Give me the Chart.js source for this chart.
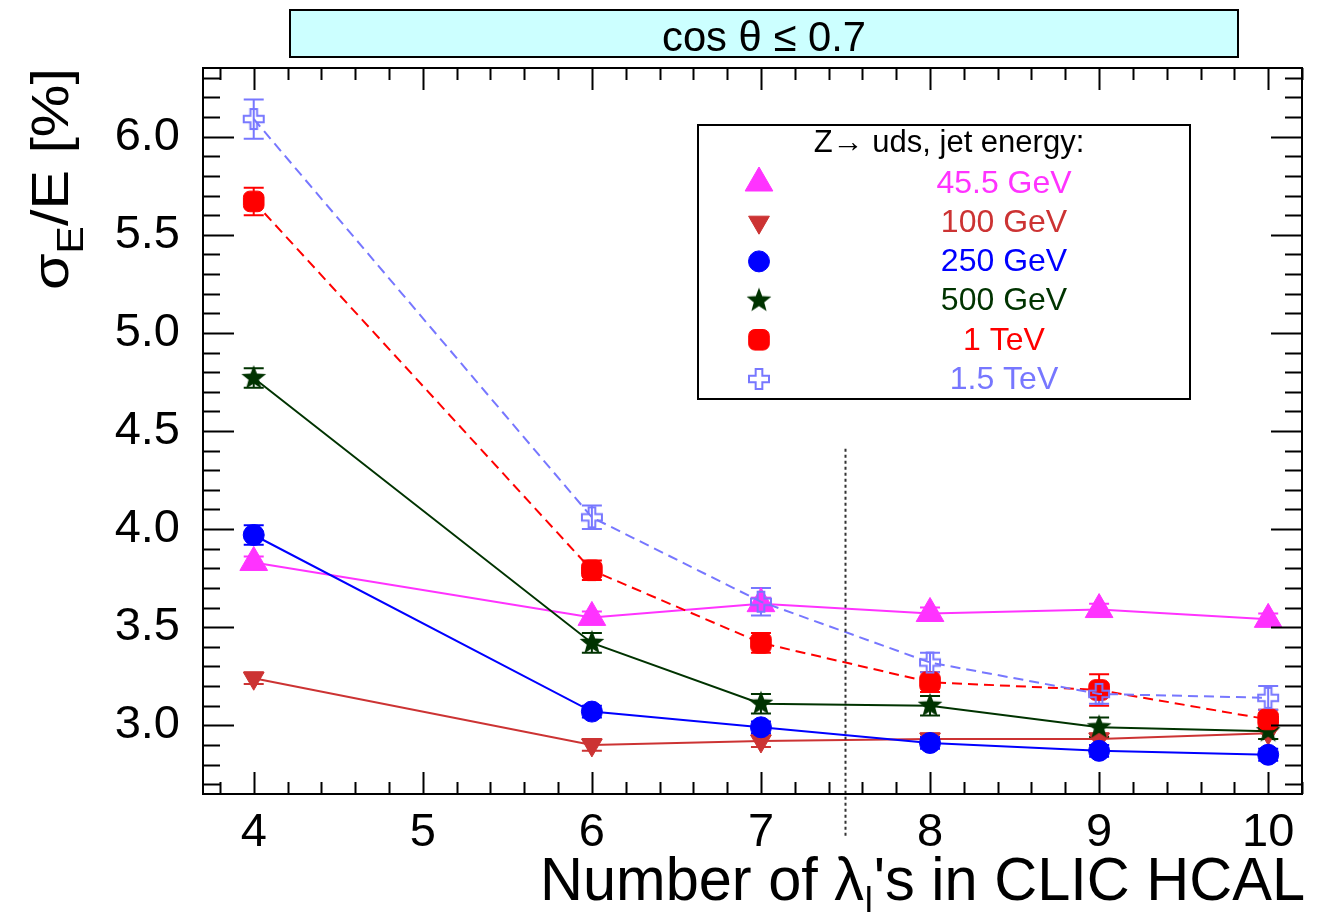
<!DOCTYPE html>
<html>
<head>
<meta charset="utf-8">
<script src="https://cdn.jsdelivr.net/npm/chart.js@4.4.1/dist/chart.umd.min.js"></script>
<style>
  html, body { margin: 0; padding: 0; background: #fff; }
  canvas { display: block; }
</style>
</head>
<body>
<canvas id="resChart" width="1319" height="912"></canvas>
<script>
// data
const lambdas = [4, 6, 7, 8, 9, 10];
const labels = ['45.5 GeV', '100 GeV', '250 GeV', '500 GeV', '1 TeV', '1.5 TeV'];
const res455 = [3.83, 3.55, 3.62, 3.57, 3.59, 3.54];
const res100 = [3.24, 2.90, 2.92, 2.93, 2.93, 2.96];
const res250 = [3.97, 3.07, 2.99, 2.91, 2.87, 2.85];
const res500 = [4.77, 3.42, 3.11, 3.10, 2.99, 2.97];
const res1000 = [5.67, 3.79, 3.42, 3.22, 3.18, 3.03];
const res1500 = [6.09, 4.06, 3.63, 3.32, 3.16, 3.14];
const err455 = [0.03, 0.03, 0.03, 0.03, 0.03, 0.03];
const err100 = [0.03, 0.03, 0.03, 0.03, 0.03, 0.03];
const err250 = [0.05, 0.03, 0.03, 0.03, 0.03, 0.03];
const err500 = [0.05, 0.05, 0.05, 0.05, 0.05, 0.04];
const err1000 = [0.07, 0.05, 0.05, 0.05, 0.08, 0.05];
const err1500 = [0.10, 0.06, 0.07, 0.05, 0.05, 0.06];
const xTicks = [4, 5, 6, 7, 8, 9, 10];
const yTicks = [3.0, 3.5, 4.0, 4.5, 5.0, 5.5, 6.0];
const xMin = 3.7, xMax = 10.2, yMin = 2.65, yMax = 6.35;
const cutX = 7.5, cutTop = 4.41;

const FONT = '"Liberation Sans", Arial, Helvetica, sans-serif';
const colors = ['#ff33ff', '#cc3333', '#0000ff', '#003300', '#ff0000', '#7777ff'];

// marker images for styles chart.js does not have
function makeStar(color, R) {
    const c = document.createElement('canvas');
    c.width = c.height = 2 * R + 2;
    const g = c.getContext('2d');
    g.translate(R + 1, R + 1);
    g.beginPath();
    for (let i = 0; i < 10; i++) {
        const a = -Math.PI / 2 + i * Math.PI / 5;
        const r = i % 2 ? R * 0.42 : R;
        g.lineTo(Math.cos(a) * r, Math.sin(a) * r);
    }
    g.closePath();
    g.fillStyle = color;
    g.fill();
    return c;
}
function makeOpenCross(color, R) {
    const c = document.createElement('canvas');
    c.width = c.height = 2 * R + 4;
    const g = c.getContext('2d');
    g.translate(R + 2, R + 2);
    const a = R / 3;
    const pts = [[-a,-R],[a,-R],[a,-a],[R,-a],[R,a],[a,a],[a,R],[-a,R],[-a,a],[-R,a],[-R,-a],[-a,-a]];
    g.beginPath();
    pts.forEach(p => g.lineTo(p[0], p[1]));
    g.closePath();
    g.strokeStyle = color;
    g.lineWidth = 2;
    g.stroke();
    return c;
}

const series = [res455, res100, res250, res500, res1000, res1500];
const errors = [err455, err100, err250, err500, err1000, err1500];
const styles = [
    { pointStyle: 'triangle', radius: 16, rotation: 0 },
    { pointStyle: 'triangle', radius: 12, rotation: 180 },
    { pointStyle: 'circle', radius: 10.5, rotation: 0 },
    { pointStyle: makeStar(colors[3], 13), radius: 12, rotation: 0 },
    { pointStyle: 'rectRounded', radius: 12, rotation: 0 },
    { pointStyle: makeOpenCross(colors[5], 10), radius: 10, rotation: 0 }
];
const dashes = [[], [], [], [], [10, 6], [10, 6]];

const datasets = series.map((vals, i) => ({
    label: labels[i],
    data: lambdas.map((x, k) => ({ x: x, y: vals[k] })),
    errors: errors[i],
    borderColor: colors[i],
    backgroundColor: colors[i],
    borderWidth: 2,
    borderDash: dashes[i],
    pointStyle: styles[i].pointStyle,
    pointRadius: styles[i].radius,
    pointRotation: styles[i].rotation,
    pointBackgroundColor: colors[i],
    pointBorderColor: colors[i],
    pointBorderWidth: 1,
    tension: 0,
    order: series.length - 1 - i
}));

// error bars with caps
const errorBars = {
    id: 'errorBars',
    beforeDatasetsDraw(chart) {
        const ctx = chart.ctx, xs = chart.scales.x, ys = chart.scales.y;
        ctx.save();
        chart.data.datasets.forEach(ds => {
            ctx.strokeStyle = ds.borderColor;
            ctx.lineWidth = 2;
            ds.data.forEach((p, k) => {
                const e = ds.errors[k];
                const px = xs.getPixelForValue(p.x);
                const y1 = ys.getPixelForValue(p.y - e), y2 = ys.getPixelForValue(p.y + e);
                ctx.beginPath();
                ctx.moveTo(px, y1); ctx.lineTo(px, y2);
                ctx.moveTo(px - 10, y1); ctx.lineTo(px + 10, y1);
                ctx.moveTo(px - 10, y2); ctx.lineTo(px + 10, y2);
                ctx.stroke();
            });
        });
        ctx.restore();
    }
};

// dotted marker line at 7.5 lambda
const cutLine = {
    id: 'cutLine',
    afterDatasetsDraw(chart) {
        const ctx = chart.ctx, xs = chart.scales.x, ys = chart.scales.y;
        const px = Math.round(xs.getPixelForValue(cutX)) + 0.5;
        ctx.save();
        ctx.strokeStyle = '#333';
        ctx.lineWidth = 2;
        ctx.setLineDash([3, 3]);
        ctx.beginPath();
        ctx.moveTo(px, ys.getPixelForValue(cutTop));
        ctx.lineTo(px, chart.chartArea.bottom + 44);
        ctx.stroke();
        ctx.restore();
    }
};

function drawParts(ctx, parts) {
    let x = 0;
    parts.forEach(p => {
        ctx.font = p[1] + 'px ' + FONT;
        ctx.fillText(p[0], x, p[2]);
        x += ctx.measureText(p[0]).width;
    });
    return x;
}
function partsWidth(ctx, parts) {
    let w = 0;
    parts.forEach(p => { ctx.font = p[1] + 'px ' + FONT; w += ctx.measureText(p[0]).width; });
    return w;
}

// frame, ticks, titles, legend
const decorations = {
    id: 'decorations',
    afterDraw(chart) {
        const ctx = chart.ctx, xs = chart.scales.x, ys = chart.scales.y;
        const a = chart.chartArea;
        ctx.save();
        ctx.strokeStyle = '#000';
        ctx.lineWidth = 2;
        ctx.beginPath();
        // x ticks every 0.2, major on integers
        for (let v = Math.ceil(xMin / 0.2) * 0.2; v <= xMax + 1e-6; v += 0.2) {
            const major = Math.abs(v - Math.round(v)) < 1e-6;
            const px = Math.round(xs.getPixelForValue(v)) + 0.5;
            const len = major ? 22 : 12;
            ctx.moveTo(px, a.bottom); ctx.lineTo(px, a.bottom - len);
            ctx.moveTo(px, a.top); ctx.lineTo(px, a.top + len);
        }
        // y ticks every 0.1, major on 0.5
        for (let v = Math.ceil(yMin / 0.1) * 0.1; v <= yMax + 1e-6; v += 0.1) {
            const major = Math.abs(v * 2 - Math.round(v * 2)) < 1e-6;
            const py = Math.round(ys.getPixelForValue(v)) + 0.5;
            const len = major ? 31 : 17;
            ctx.moveTo(a.left, py); ctx.lineTo(a.left + len, py);
            ctx.moveTo(a.right, py); ctx.lineTo(a.right - len, py);
        }
        ctx.stroke();
        ctx.strokeRect(a.left, a.top, a.right - a.left, a.bottom - a.top);

        // header box
        ctx.fillStyle = '#ccffff';
        ctx.fillRect(290, 10, 948, 47);
        ctx.strokeRect(290, 10, 948, 47);
        ctx.fillStyle = '#000';
        ctx.font = '42px ' + FONT;
        ctx.textAlign = 'center';
        ctx.textBaseline = 'alphabetic';
        const hdr = 'cos \u03B8 \u2264 0.7';
        const hw = ctx.measureText(hdr).width;
        ctx.save();
        ctx.translate(764, 51);
        ctx.scale(204 / hw, 1);
        ctx.fillText(hdr, 0, 0);
        ctx.restore();

        // x title, right aligned
        ctx.textAlign = 'left';
        const xParts = [['Number of \u03BB', 62, 0], ['I', 36, 12], ['\'s in CLIC HCAL', 62, 0]];
        const xw = partsWidth(ctx, xParts);
        ctx.save();
        ctx.translate(1305 - 765, 900);
        ctx.scale(765 / xw, 1);
        drawParts(ctx, xParts);
        ctx.restore();

        // y title, rotated
        const yParts = [['\u03C3', 52, 0], ['E', 36, 15], ['/E [%]', 52, 0]];
        const yw = partsWidth(ctx, yParts);
        ctx.save();
        ctx.translate(68, 290);
        ctx.rotate(-Math.PI / 2);
        ctx.scale(222 / yw, 1);
        drawParts(ctx, yParts);
        ctx.restore();

        // legend box
        ctx.fillStyle = '#fff';
        ctx.fillRect(698, 125, 492, 274);
        ctx.strokeRect(698, 125, 492, 274);
        ctx.fillStyle = '#000';
        ctx.textAlign = 'center';
        ctx.textBaseline = 'middle';
        ctx.font = '31px ' + FONT;
        ctx.fillText('Z\u2192 uds, jet energy:', 949, 143);
        chart.data.datasets.forEach((ds, i) => {
            const ry = 183 + i * 39.2;
            ctx.fillStyle = ds.borderColor;
            ctx.strokeStyle = ds.borderColor;
            ctx.lineWidth = 1;
            Chart.helpers.drawPoint(ctx, {
                pointStyle: ds.pointStyle, radius: ds.pointRadius,
                rotation: ds.pointRotation, borderWidth: 1
            }, 759, ry);
            ctx.font = '32px ' + FONT;
            ctx.fillText(ds.label, 1004, ry + 1);
        });
        ctx.restore();
    }
};

const ctx = document.getElementById('resChart').getContext('2d');
const resChart = new Chart(ctx, {
    type: 'line',
    data: { datasets: datasets },
    options: {
        responsive: false,
        animation: false,
        layout: { padding: { top: 68, right: 17, left: 0, bottom: 0 } },
        plugins: { legend: { display: false }, tooltip: { enabled: false } },
        scales: {
            x: {
                type: 'linear', min: xMin, max: xMax,
                grid: { display: false }, border: { display: false },
                afterBuildTicks: s => { s.ticks = xTicks.map(v => ({ value: v })); },
                ticks: {
                    autoSkip: false, maxRotation: 0, padding: 3, color: '#000',
                    font: { family: FONT, size: 47 },
                    callback: v => String(v)
                },
                afterFit: s => { s.height = 118; }
            },
            y: {
                type: 'linear', min: yMin, max: yMax,
                grid: { display: false }, border: { display: false },
                afterBuildTicks: s => { s.ticks = yTicks.map(v => ({ value: v })); },
                ticks: {
                    autoSkip: false, padding: 15, color: '#000',
                    font: { family: FONT, size: 47 },
                    callback: v => Number(v).toFixed(1)
                },
                afterFit: s => { s.width = 203; }
            }
        }
    },
    plugins: [errorBars, cutLine, decorations]
});
</script>
</body>
</html>
